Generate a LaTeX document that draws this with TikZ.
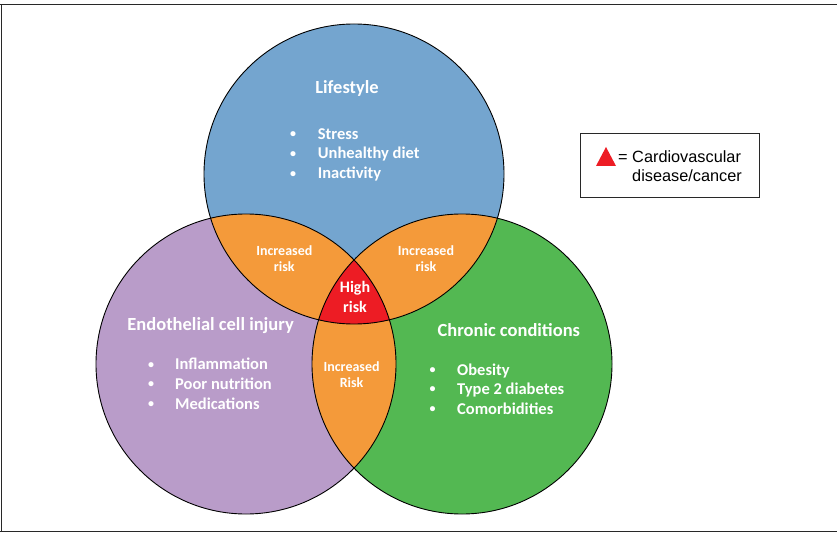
\documentclass[tikz,border=0pt]{standalone}
\usepackage{fontspec}
\newfontfamily\calfont{Carlito}
\newfontfamily\arialfont{Liberation Sans}
\definecolor{cblue}{RGB}{116,165,207}
\definecolor{cpurple}{RGB}{185,156,201}
\definecolor{cgreen}{RGB}{83,184,82}
\definecolor{corange}{RGB}{244,154,58}
\definecolor{cred}{RGB}{237,28,36}
\definecolor{cframe}{RGB}{40,40,40}
\tikzset{
  wtxt/.style={text=white, inner sep=0pt, anchor=base, font=\calfont\bfseries\fontsize{#1}{#1}\selectfont},
  ttl/.style={wtxt=18.5pt},
  itm/.style={wtxt=16.5pt, anchor=base west},
  bul/.style={wtxt=12pt},
  rsk/.style={wtxt=14pt},
  hrsk/.style={wtxt=16pt},
  ring/.style={draw=black, line width=0.9pt},
  leg/.style={inner sep=0pt, anchor=base west, font=\arialfont\fontsize{16.3pt}{16.3pt}\selectfont}
}
\begin{document}
\begin{tikzpicture}[x=1pt,y=-1pt]
\useasboundingbox (0,0) rectangle (837,537);
% frame
\draw[cframe, line width=1.4pt] (0,4.5) -- (837,4.5);
\draw[cframe, line width=1.4pt] (1.2,4.5) -- (1.2,531.5);
\draw[cframe, line width=1.4pt] (0,531.5) -- (837,531.5);
% circles
\coordinate (T) at (354,174);
\coordinate (L) at (246,364);
\coordinate (R) at (462,364);
\def\rr{150}
\fill[cblue] (T) circle (\rr);
\fill[cpurple] (L) circle (\rr);
\fill[cgreen] (R) circle (\rr);
\begin{scope}
  \clip (T) circle (\rr);
  \fill[corange] (L) circle (\rr);
  \fill[corange] (R) circle (\rr);
\end{scope}
\begin{scope}
  \clip (L) circle (\rr);
  \fill[corange] (R) circle (\rr);
\end{scope}
\begin{scope}
  \clip (T) circle (\rr);
  \clip (L) circle (\rr);
  \fill[cred] (R) circle (\rr);
\end{scope}
\draw[ring] (T) circle (\rr);
\draw[ring] (L) circle (\rr);
\draw[ring] (R) circle (\rr);
% Lifestyle
\node[ttl] (lt) at (347,94) {Lifestyle};
\node[bul] (lb1) at (293,138) {•};
\node[bul] (lb2) at (293,157.5) {•};
\node[bul] (lb3) at (293,177.5) {•};
\node[itm] (li1) at (317.7,139.6) {Stress};
\node[itm] (li2) at (317.7,159) {Unhealthy diet};
\node[itm] (li3) at (317.7,179) {Inactivity};
% Endothelial
\node[ttl] (et) at (210.6,330.5) {Endothelial cell injury};
\node[bul] (eb1) at (151,368.2) {•};
\node[bul] (eb2) at (151,387.5) {•};
\node[bul] (eb3) at (151,407.5) {•};
\node[itm] (ei1) at (175,369.7) {Inflammation};
\node[itm] (ei2) at (175,389) {Poor nutrition};
\node[itm] (ei3) at (175,409) {Medications};
% Chronic
\node[ttl] (ct) at (508.8,336.5) {Chronic conditions};
\node[bul] (cb1) at (432.5,373.5) {•};
\node[bul] (cb2) at (432.5,392.5) {•};
\node[bul] (cb3) at (432.5,412.5) {•};
\node[itm] (ci1) at (457,375) {Obesity};
\node[itm] (ci2) at (457,394) {Type 2 diabetes};
\node[itm] (ci3) at (457,414) {Comorbidities};
% risks
\node[rsk] (ra1) at (284.3,255) {Increased};
\node[rsk] (ra2) at (284.3,271.2) {risk};
\node[rsk] (rb1) at (426,255) {Increased};
\node[rsk] (rb2) at (426,271.2) {risk};
\node[rsk] (rc1) at (351.6,371) {Increased};
\node[rsk] (rc2) at (351.6,387.8) {Risk};
\node[hrsk] (h1) at (355,292.5) {High};
\node[hrsk] (h2) at (355,312) {risk};
% legend
\draw[cframe, line width=1pt] (580,134) rectangle (759,198);
\fill[cred] (596,166) -- (606,147) -- (616,166) -- cycle;
\node[leg] (lg1) at (618,163) {= Cardiovascular};
\node[leg] (lg2) at (632,182) {disease/cancer};
\end{tikzpicture}
\end{document}
